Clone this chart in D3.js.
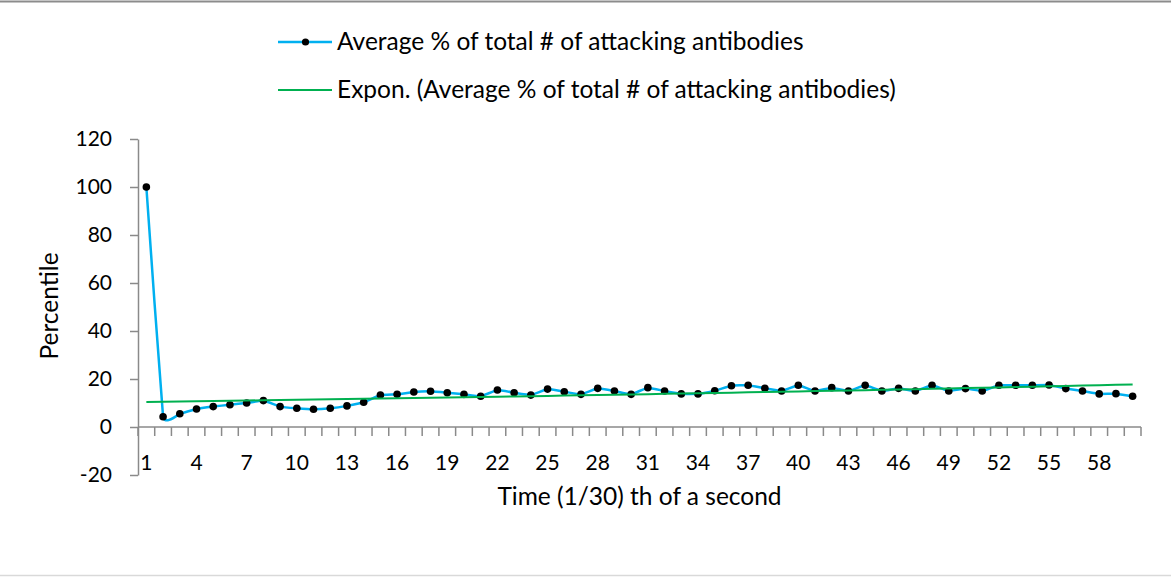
<!DOCTYPE html>
<html>
<head>
<meta charset="utf-8">
<script src="https://cdn.jsdelivr.net/npm/d3@7"></script>
<style>
  html, body { margin: 0; padding: 0; background: #fff; }
  svg { display: block; font-family: Lato, "Open Sans", sans-serif; }
</style>
</head>
<body>
<svg id="chart" width="1171" height="577"></svg>
<script>
// Time steps (1/30 s) and the averaged share of attacking antibodies
const timeSteps = d3.range(1, 61);
const avgPercent = [
  100, 4.3, 5.5, 7.5, 8.5, 9.3, 10.0, 11.0, 8.5, 7.8,
  7.4, 7.8, 8.8, 10.3, 13.3, 13.6, 14.6, 14.9, 14.3, 13.6,
  12.8, 15.4, 14.3, 13.3, 15.8, 14.7, 13.6, 16.1, 15.0, 13.6,
  16.4, 15.0, 13.8, 13.8, 15.1, 17.2, 17.4, 16.1, 15.0, 17.4,
  15.0, 16.4, 15.0, 17.4, 15.0, 16.1, 15.0, 17.4, 15.0, 16.0,
  15.0, 17.4, 17.4, 17.4, 17.5, 16.0, 15.0, 13.8, 13.9, 12.8
];
const yTicks = [-20, 0, 20, 40, 60, 80, 100, 120];
const xTickLabels = d3.range(1, 61, 3);
const seriesName = "Average % of total # of attacking antibodies";
const trendName = "Expon. (Average % of total # of attacking antibodies)";

const svg = d3.select("#chart");
const plot = { left: 138, right: 1141, top: 139, bottom: 475 };
const textSize = 24.5;
const tickSize = 21;

const x = d3.scaleBand().domain(timeSteps).range([plot.left, plot.right]);
const y = d3.scaleLinear().domain([-20, 120]).range([plot.bottom, plot.top]);
const cx = d => x(d) + x.bandwidth() / 2;

// Outer chart frame edges
svg.append("line").attr("x1", 0).attr("x2", 1171).attr("y1", 1.5).attr("y2", 1.5)
  .attr("stroke", "#8c8c8c").attr("stroke-width", 2);
svg.append("line").attr("x1", 0).attr("x2", 1171).attr("y1", 575.5).attr("y2", 575.5)
  .attr("stroke", "#d9d9d9").attr("stroke-width", 1.5);

const axisColor = "#8a8a8a";

// Y axis
const yAxis = svg.append("g").attr("transform", `translate(${plot.left},0)`)
  .call(d3.axisLeft(y).tickValues(yTicks).tickFormat(d => String(d))
    .tickSize(8).tickPadding(18).tickSizeOuter(0));
yAxis.select(".domain").attr("stroke", axisColor).attr("stroke-width", 1.5);
yAxis.selectAll(".tick line").attr("stroke", axisColor).attr("stroke-width", 1.5);
yAxis.selectAll(".tick text").attr("font-size", tickSize).attr("fill", "#000")
  .attr("font-family", "Lato, sans-serif");

// X axis crossing at zero, ticks on category boundaries
const xAxisG = svg.append("g").attr("transform", `translate(0,${y(0)})`);
xAxisG.append("line").attr("x1", plot.left).attr("x2", plot.right)
  .attr("stroke", axisColor).attr("stroke-width", 1.5);
xAxisG.selectAll("line.tk").data(timeSteps.concat([61])).join("line")
  .attr("class", "tk")
  .attr("x1", d => d <= 60 ? x(d) : plot.right)
  .attr("x2", d => d <= 60 ? x(d) : plot.right)
  .attr("y1", 0).attr("y2", 9)
  .attr("stroke", axisColor).attr("stroke-width", 1.5);
xAxisG.selectAll("text").data(xTickLabels).join("text")
  .attr("x", d => cx(d)).attr("y", 43)
  .attr("text-anchor", "middle").attr("font-size", tickSize).attr("fill", "#000")
  .text(d => d);

// Axis titles
svg.append("text").attr("transform", `translate(58,${(plot.top + plot.bottom) / 2 - 1}) rotate(-90)`)
  .attr("text-anchor", "middle").attr("font-size", textSize).attr("fill", "#000").text("Percentile");
svg.append("text").attr("x", (plot.left + plot.right) / 2).attr("y", 505)
  .attr("text-anchor", "middle").attr("font-size", textSize).attr("fill", "#000")
  .text("Time (1/30) th of a second");

// Series line (lightly smoothed) and markers
const data = timeSteps.map((t, i) => ({ t, v: avgPercent[i] }));
const line = d3.line().x(d => cx(d.t)).y(d => y(d.v)).curve(d3.curveCardinal.tension(0.75));
svg.append("path").datum(data).attr("d", line)
  .attr("fill", "none").attr("stroke", "#00b0f0").attr("stroke-width", 2.5);
svg.selectAll("circle.pt").data(data).join("circle").attr("class", "pt")
  .attr("cx", d => cx(d.t)).attr("cy", d => y(d.v)).attr("r", 3.8).attr("fill", "#000");

// Exponential trendline: least squares fit of ln(v) against t
const mx = d3.mean(data, d => d.t);
const my = d3.mean(data, d => Math.log(d.v));
const b = d3.sum(data, d => (d.t - mx) * (Math.log(d.v) - my)) / d3.sum(data, d => (d.t - mx) ** 2);
const a = my - b * mx;
const trend = timeSteps.map(t => ({ t, v: Math.exp(a + b * t) }));
svg.append("path").datum(trend)
  .attr("d", d3.line().x(d => cx(d.t)).y(d => y(d.v)))
  .attr("fill", "none").attr("stroke", "#00b050").attr("stroke-width", 2);

// Legend
const legend = svg.append("g");
legend.append("line").attr("x1", 278).attr("x2", 332).attr("y1", 42).attr("y2", 42)
  .attr("stroke", "#00b0f0").attr("stroke-width", 2.5);
legend.append("circle").attr("cx", 305.5).attr("cy", 42).attr("r", 3.6).attr("fill", "#000");
legend.append("text").attr("x", 337).attr("y", 50).attr("font-size", textSize).attr("fill", "#000").text(seriesName);
legend.append("line").attr("x1", 278).attr("x2", 332).attr("y1", 90).attr("y2", 90)
  .attr("stroke", "#00b050").attr("stroke-width", 2);
legend.append("text").attr("x", 337).attr("y", 98).attr("font-size", textSize).attr("fill", "#000").text(trendName);
</script>
</body>
</html>
